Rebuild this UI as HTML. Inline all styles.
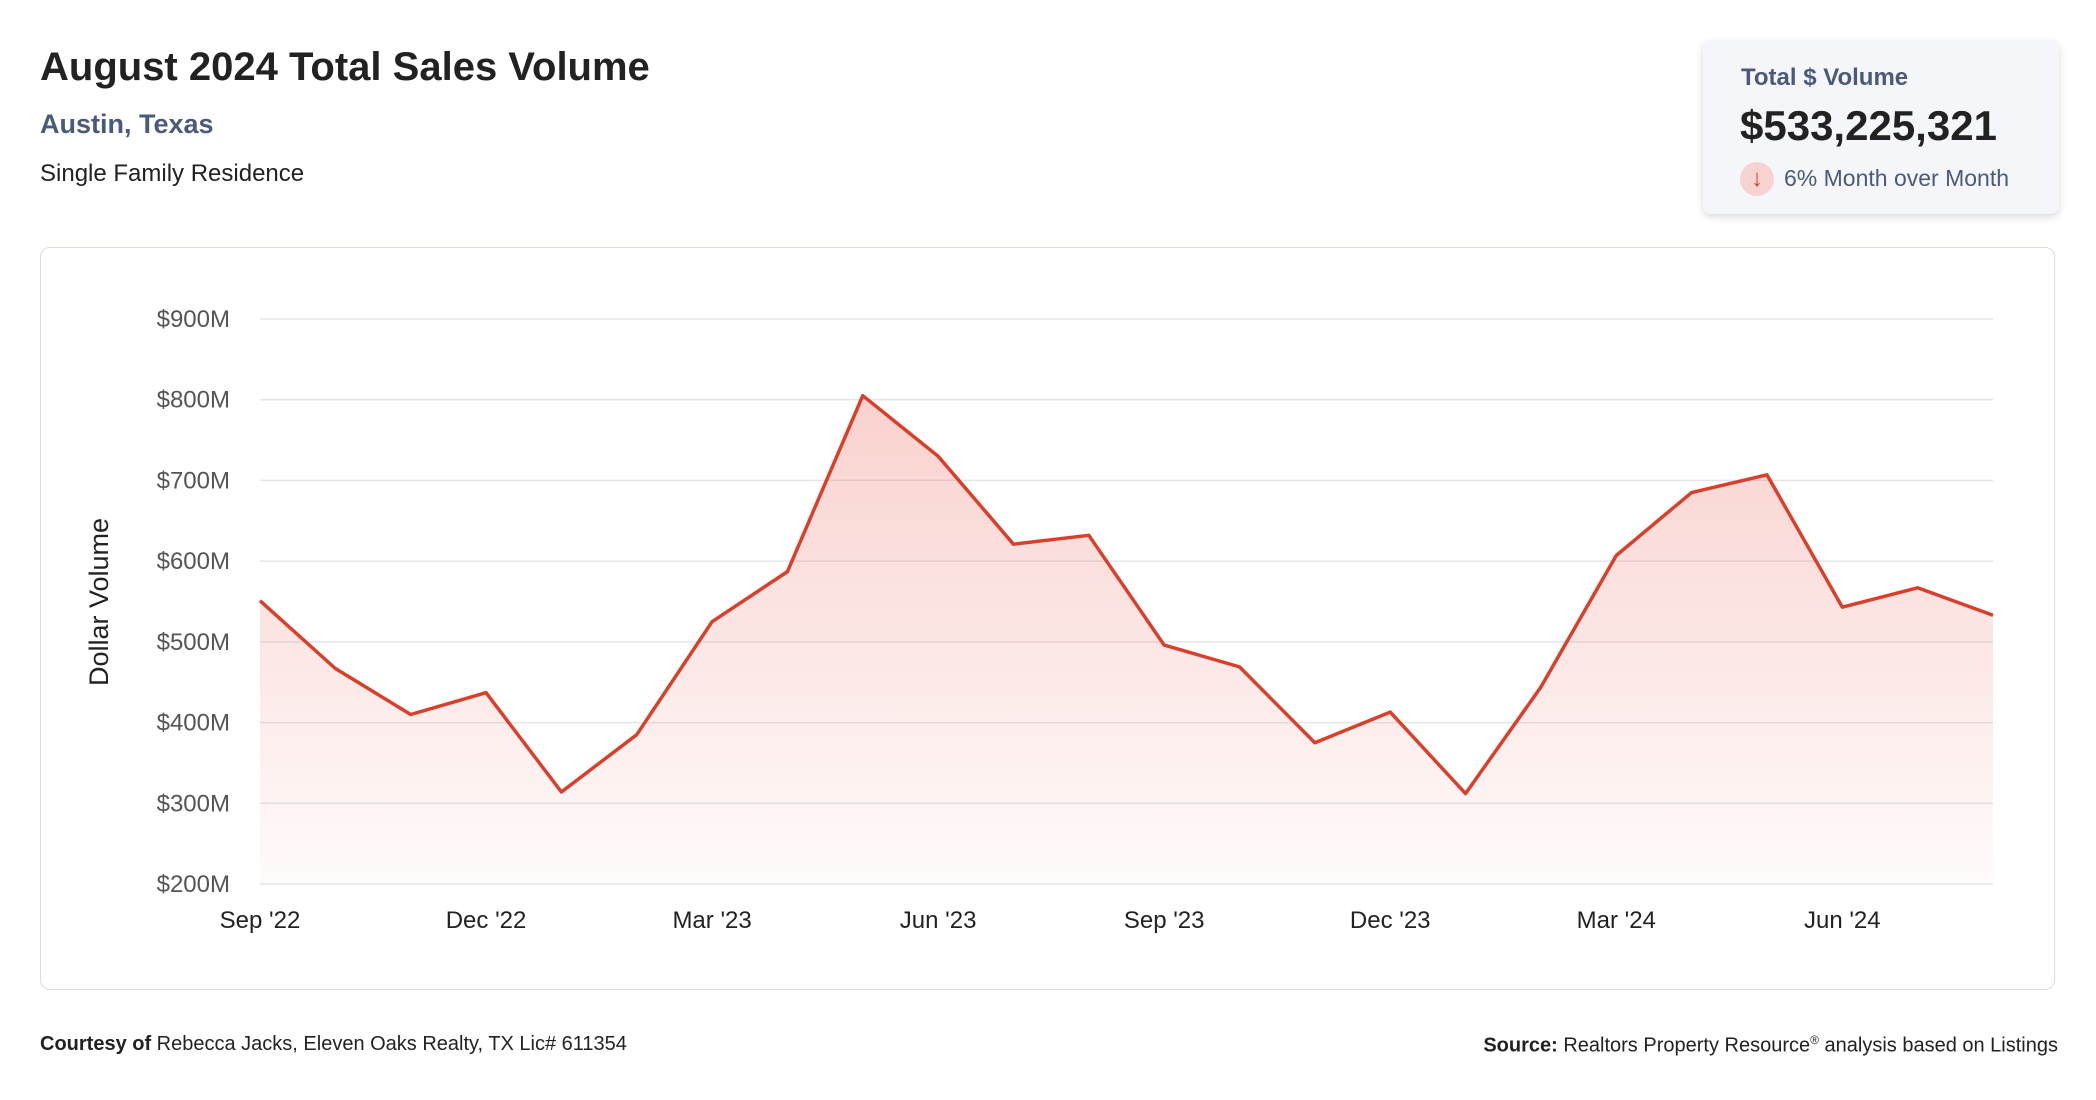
<!DOCTYPE html>
<html><head><meta charset="utf-8"><style>
body{margin:0;width:2096px;height:1100px;background:#fff;font-family:"Liberation Sans",sans-serif;position:relative;overflow:hidden;color:#222}
.a{position:absolute;white-space:nowrap}
</style></head><body>
<div class="a" style="left:40px;top:45px;font-size:40px;font-weight:bold;color:#222">August 2024 Total Sales Volume</div>
<div class="a" style="left:40px;top:109px;font-size:27px;font-weight:bold;color:#4a5a78">Austin, Texas</div>
<div class="a" style="left:40px;top:160px;font-size:24px;color:#222">Single Family Residence</div>
<div class="a" style="left:1703px;top:40px;width:356px;height:174px;background:#f5f6f9;border-radius:8px;box-shadow:0 3px 8px rgba(0,0,0,0.15)">
  <div class="a" style="left:38px;top:24px;font-size:24px;font-weight:bold;color:#4a5a78">Total $ Volume</div>
  <div class="a" style="left:37px;top:62px;font-size:42px;font-weight:bold;color:#222">$533,225,321</div>
  <div class="a" style="left:37px;top:122px;width:34px;height:34px;border-radius:50%;background:#f6d3d0;color:#d9402b;font-size:24px;text-align:center;line-height:34px">↓</div>
  <div class="a" style="left:81px;top:125px;font-size:23px;color:#4a5a78">6% Month over Month</div>
</div>
<div class="a" style="left:40px;top:247px;width:2013px;height:741px;border:1.5px solid #d8dde6;border-radius:10px"></div>
<svg class="a" style="left:0;top:0" width="2096" height="1100">
<defs><linearGradient id="g" x1="0" y1="0" x2="0" y2="1"><stop offset="0" stop-color="#e8493a" stop-opacity="0.25"/><stop offset="1" stop-color="#e8493a" stop-opacity="0.02"/></linearGradient></defs>
<g id="grid"></g><path id="area" fill="url(#g)"/><path id="line" fill="none" stroke="#d9402b" stroke-width="3.5" stroke-linejoin="round"/><g id="lbl"></g>
<text transform="translate(108,602) rotate(-90)" text-anchor="middle" font-size="27" fill="#222" font-family="Liberation Sans">Dollar Volume</text>
</svg>
<div class="a" style="left:40px;top:1033px;font-size:20px"><b>Courtesy of</b> Rebecca Jacks, Eleven Oaks Realty, TX Lic# 611354</div>
<div class="a" style="right:38px;top:1033px;font-size:20px"><b>Source:</b> Realtors Property Resource<sup style="font-size:12px">®</sup> analysis based on Listings</div>
<script>
const months=["Sep '22","Oct '22","Nov '22","Dec '22","Jan '23","Feb '23","Mar '23","Apr '23","May '23","Jun '23","Jul '23","Aug '23","Sep '23","Oct '23","Nov '23","Dec '23","Jan '24","Feb '24","Mar '24","Apr '24","May '24","Jun '24","Jul '24","Aug '24"];
const volumes=[551,467,410,437,314,385,525,587,805,730,621,632,496,469,375,413,312,444,607,685,707,543,567,533];
const yTicks=[200,300,400,500,600,700,800,900];
const xLabelEvery=3;
const X0=260,X1=1993,Y0=884,Y1=319;
const xs=i=>X0+(X1-X0)*i/(months.length-1);
const ys=v=>Y0-(v-200)/700*(Y0-Y1);
const ns="http://www.w3.org/2000/svg";
const grid=document.getElementById('grid'),lbl=document.getElementById('lbl');
yTicks.forEach(t=>{
 const l=document.createElementNS(ns,'line');
 
 
 l.setAttribute('x1',X0);l.setAttribute('x2',X1);l.setAttribute('y1',ys(t));l.setAttribute('y2',ys(t));
 l.setAttribute('stroke','#e3e5ea');l.setAttribute('stroke-width','1.5');grid.appendChild(l);
 const tx=document.createElementNS(ns,'text');
 
 
 tx.setAttribute('x',230);tx.setAttribute('y',ys(t)+8);tx.setAttribute('text-anchor','end');
 tx.setAttribute('font-size','24');tx.setAttribute('fill','#555');tx.setAttribute('font-family','Liberation Sans');
 tx.textContent='$'+t+'M';lbl.appendChild(tx);
});
months.forEach((m,i)=>{if(i%xLabelEvery)return;
 const tx=document.createElementNS(ns,'text');
 
 
 tx.setAttribute('x',xs(i));tx.setAttribute('y',928);tx.setAttribute('text-anchor','middle');
 tx.setAttribute('font-size','24');tx.setAttribute('fill','#222');tx.setAttribute('font-family','Liberation Sans');
 tx.textContent=m;lbl.appendChild(tx);});
const pts=volumes.map((v,i)=>xs(i)+','+ys(v));
const line=document.getElementById('line');
line.setAttribute('d','M'+pts.join('L'));


const area=document.getElementById('area');
area.setAttribute('d','M'+X0+','+Y0+'L'+pts.join('L')+'L'+X1+','+Y0+'Z');


</script>
</body></html>
